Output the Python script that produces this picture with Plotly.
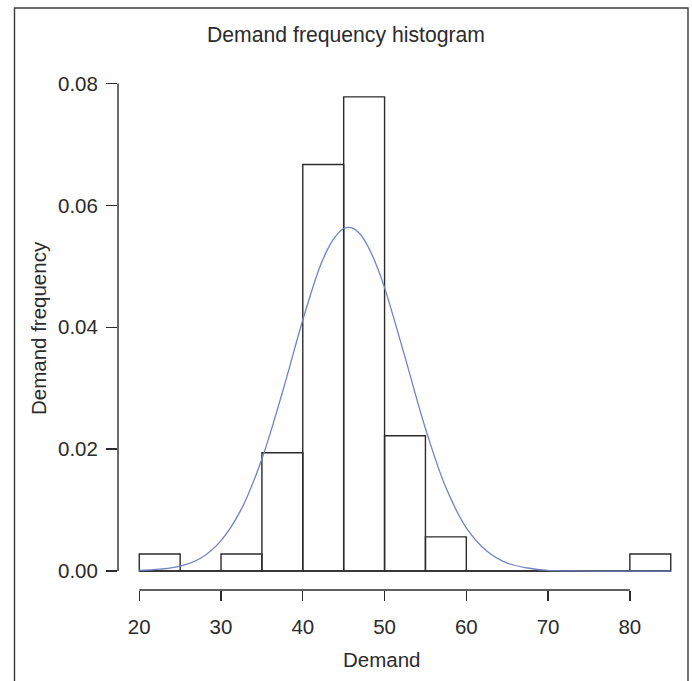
import plotly.graph_objects as go

# ---- data ----
bin_left = [20, 25, 30, 35, 40, 45, 50, 55, 60, 65, 70, 75, 80]
bin_width = 5
density = [0.0028, 0.0, 0.0028, 0.0194, 0.0667, 0.0778, 0.0222, 0.0056, 0.0, 0.0, 0.0, 0.0, 0.0028]

curve_x = [20, 22.5, 25, 27.5, 30, 32.5, 35, 37.5, 40, 42, 43, 44, 45, 46, 47, 48, 49, 50,
           52.5, 55, 57.5, 60, 62.5, 65, 67.5, 70, 72.5, 75, 80, 85]
curve_y = [0.0001, 0.0003, 0.0008, 0.0021, 0.0050, 0.0102, 0.0184, 0.0293, 0.0412, 0.0496,
           0.0527, 0.0549, 0.0562, 0.0563, 0.0553, 0.0532, 0.0502, 0.0465,
           0.0351, 0.0234, 0.0137, 0.0071, 0.0033, 0.0013, 0.0005, 0.0001, 0.00003, 0.0, 0.0, 0.0]

x_ticks = [20, 30, 40, 50, 60, 70, 80]
y_ticks = [0.00, 0.02, 0.04, 0.06, 0.08]
y_tick_text = ["0.00", "0.02", "0.04", "0.06", "0.08"]

title_text = "Demand frequency histogram"
x_title = "Demand"
y_title = "Demand frequency"

# ---- layout geometry ----
W, H = 692, 681
L, R, T, B = 118, 0, 78, 90.5
PW, PH = W - L - R, H - T - B
FONT = "Liberation Sans, Arial, sans-serif"
INK = "#2b2b2b"
FS = 20.5


def px_x(px):
    return (px - L) / PW


def px_y(py):
    return (H - B - py) / PH


centers = [b + bin_width / 2 for b in bin_left]
edges_min = min(bin_left)
edges_max = max(bin_left) + bin_width

fig = go.Figure()

# baseline for empty bins (R draws zero-height bars as flat lines)
fig.add_trace(go.Scatter(x=[edges_min, edges_max], y=[0, 0], mode="lines",
                         line=dict(color=INK, width=1.4), hoverinfo="skip", showlegend=False))

fig.add_trace(go.Bar(x=centers, y=density, width=bin_width,
                     marker=dict(color="rgba(255,255,255,0)", line=dict(color=INK, width=1.4)),
                     showlegend=False))

fig.add_trace(go.Scatter(x=curve_x, y=curve_y, mode="lines", line_shape="spline",
                         line=dict(color="#6f83c6", width=1.3), showlegend=False))

fig.update_layout(
    width=W, height=H,
    margin=dict(l=L, r=R, t=T, b=B),
    paper_bgcolor="white", plot_bgcolor="white",
    font=dict(family=FONT, size=FS, color=INK),
    bargap=0,
    title=dict(text=title_text, x=346 / W, xref="container", xanchor="center",
               y=1 - 34.5 / H, yref="container", yanchor="middle",
               font=dict(family=FONT, size=21.2, color=INK)),
    xaxis=dict(range=[17.4, 87.6], tickvals=x_ticks, ticktext=[str(v) for v in x_ticks],
               showgrid=False, zeroline=False, showline=False,
               ticks="outside", ticklen=10, tickwidth=1.4, tickcolor=INK,
               ticklabelstandoff=8, tickfont=dict(size=FS, color=INK)),
    yaxis=dict(range=[-0.00311, 0.0809], tickvals=y_ticks, ticktext=y_tick_text,
               showgrid=False, zeroline=False, showline=False,
               ticks="outside", ticklen=11, tickwidth=1.4, tickcolor=INK,
               ticklabelstandoff=4, tickfont=dict(size=FS, color=INK)),
)

# R-style axis lines spanning only the tick range
fig.add_shape(type="line", xref="x", yref="paper", x0=min(x_ticks), x1=max(x_ticks), y0=0, y1=0,
              line=dict(color=INK, width=1.4))
fig.add_shape(type="line", xref="paper", yref="y", x0=0, x1=0, y0=min(y_ticks), y1=max(y_ticks),
              line=dict(color=INK, width=1.4))

# outer frame (left, top, right edges)
fl, fr, ft, fb = px_x(14.5), px_x(688), px_y(8), px_y(700)
fig.add_shape(type="path", xref="paper", yref="paper",
              path=f"M {fl},{fb} L {fl},{ft} L {fr},{ft} L {fr},{fb}",
              line=dict(color="#3a3a3a", width=1.4))

fig.add_annotation(text=x_title, xref="paper", yref="paper", x=px_x(381.5), y=px_y(660),
                   xanchor="center", yanchor="middle", showarrow=False,
                   font=dict(family=FONT, size=FS, color=INK))
fig.add_annotation(text=y_title, xref="paper", yref="paper", x=px_x(38.3), y=px_y(328),
                   xanchor="center", yanchor="middle", textangle=-90, showarrow=False,
                   font=dict(family=FONT, size=FS, color=INK))

fig.write_html("out.html",
               config={"displayModeBar": False, "staticPlot": True},
               post_script="document.body.style.margin='0';document.body.style.overflow='hidden';")
